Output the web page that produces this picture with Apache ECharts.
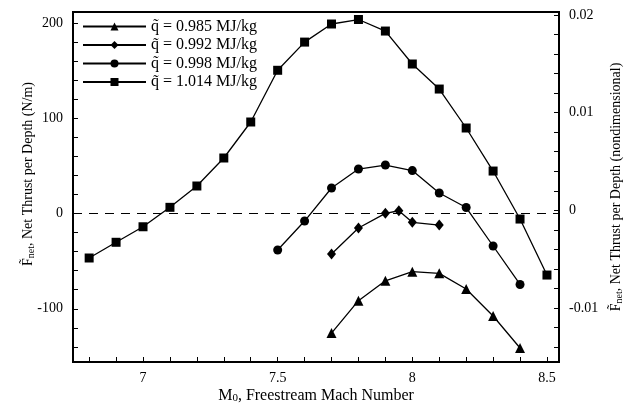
<!DOCTYPE html>
<html>
<head>
<meta charset="utf-8">
<script src="https://cdn.jsdelivr.net/npm/echarts@6/dist/echarts.min.js"></script>
<style>
  html, body { margin: 0; padding: 0; background: #fff; }
  #chart { width: 626px; height: 407px; }
</style>
</head>
<body>
<div id="chart"></div>
<script>
// Freestream Mach number for each run
const machSquare = [6.8, 6.9, 7.0, 7.1, 7.2, 7.3, 7.4, 7.5, 7.6, 7.7, 7.8, 7.9, 8.0, 8.1, 8.2, 8.3, 8.4, 8.5];
const machCircle = [7.5, 7.6, 7.7, 7.8, 7.9, 8.0, 8.1, 8.2, 8.3, 8.4];
const machDiamond = [7.7, 7.8, 7.9, 7.95, 8.0, 8.1];
const machTriangle = [7.7, 7.8, 7.9, 8.0, 8.1, 8.2, 8.3, 8.4];

// Net thrust per depth (N/m)
const thrust1014 = [-46.7, -30.2, -13.9, 6.5, 28.9, 58.3, 96.1, 150.4, 180.0, 199.0, 203.7, 191.6, 157.0, 130.7, 89.8, 44.6, -5.8, -64.6];
const thrust0998 = [-38.3, -7.9, 26.8, 46.7, 50.9, 45.1, 21.5, 6.3, -34.1, -74.5];
const thrust0992 = [-42.5, -15.2, 0.2, 2.9, -9.2, -12.1];
const thrust0985 = [-125.5, -91.5, -70.6, -61.1, -62.8, -79.3, -107.6, -141.2];

// Series names (heat release)
const seriesNames = ['q\u0303 = 0.985 MJ/kg', 'q\u0303 = 0.992 MJ/kg', 'q\u0303 = 0.998 MJ/kg', 'q\u0303 = 1.014 MJ/kg'];

// Axis ticks and labels
const machTickValues = [6.8, 6.9, 7.0, 7.1, 7.2, 7.3, 7.4, 7.5, 7.6, 7.7, 7.8, 7.9, 8.0, 8.1, 8.2, 8.3, 8.4, 8.5];
const machLabelValues = [7, 7.5, 8, 8.5];
const thrustTickValues = [-140, -120, -100, -80, -60, -40, -20, 0, 20, 40, 60, 80, 100, 120, 140, 160, 180, 200];
const thrustLabelValues = [-100, 0, 100, 200];
const ndTickValues = [-0.014, -0.012, -0.01, -0.008, -0.006, -0.004, -0.002, 0, 0.002, 0.004, 0.006, 0.008, 0.01, 0.012, 0.014, 0.016, 0.018, 0.02];
const ndLabelValues = [-0.01, 0, 0.01, 0.02];

const FONT = 'Liberation Serif';

function pairs(xs, ys) {
  return xs.map((x, i) => [x, ys[i]]);
}

const lineBase = {
  type: 'line',
  xAxisIndex: 0,
  yAxisIndex: 0,
  symbolSize: 9,
  lineStyle: { color: '#000', width: 1.3 },
  itemStyle: { color: '#000' },
  emphasis: { disabled: true },
  animation: false
};

const subStyle = { fontFamily: FONT, fontSize: 10, padding: [5, 0, 0, 0] };

const chart = echarts.init(document.getElementById('chart'), null, { renderer: 'canvas' });

chart.setOption({
  animation: false,
  backgroundColor: '#fff',
  textStyle: { fontFamily: FONT, color: '#000' },
  grid: {
    left: 73, right: 67, top: 12, bottom: 45,
    outerBoundsMode: 'none',
    containLabel: false,
    show: true, borderColor: '#000', borderWidth: 2, backgroundColor: 'transparent'
  },
  legend: {
    orient: 'vertical',
    left: 82,
    top: 18.5,
    padding: 0,
    itemWidth: 63,
    itemHeight: 10,
    itemGap: 2.5,
    data: seriesNames,
    textStyle: { fontFamily: FONT, fontSize: 16, color: '#000', lineHeight: 16 }
  },
  xAxis: {
    type: 'value',
    min: 6.74,
    max: 8.5447,
    name: 'M{sub|0}, Freestream Mach Number',
    nameLocation: 'middle',
    nameGap: 25,
    nameMoveOverlap: false,
    nameTextStyle: {
      fontFamily: FONT, fontSize: 16, color: '#000',
      rich: { sub: { fontFamily: FONT, fontSize: 11, padding: [6, 0, 0, 0] } }
    },
    axisLine: { show: true, onZero: false, lineStyle: { color: '#000', width: 2 } },
    axisTick: { show: true, inside: true, length: 5, customValues: machTickValues, lineStyle: { color: '#000', width: 1 } },
    axisLabel: { customValues: machLabelValues, fontFamily: FONT, fontSize: 14, color: '#000', margin: 9 },
    splitLine: { show: false }
  },
  yAxis: [
    {
      type: 'value',
      position: 'left',
      min: -155.9,
      max: 211.6,
      name: 'F\u0303{sub|net}, Net Thrust per Depth (N/m)',
      nameLocation: 'middle',
      nameGap: 37,
      nameMoveOverlap: false,
      nameTextStyle: {
        fontFamily: FONT, fontSize: 14, color: '#000',
        padding: [0, 0, 0, 26],
        rich: { sub: subStyle }
      },
      axisLine: { show: true, onZero: false, lineStyle: { color: '#000', width: 2 } },
      axisTick: { show: true, inside: true, length: 5, customValues: thrustTickValues, lineStyle: { color: '#000', width: 1 } },
      axisLabel: { customValues: thrustLabelValues, fontFamily: FONT, fontSize: 14, color: '#000', margin: 10 },
      splitLine: { show: false }
    },
    {
      type: 'value',
      position: 'right',
      min: -0.01553,
      max: 0.0203,
      name: 'F\u0303{sub|net}, Net Thrust per Depth (nondimensional)',
      nameLocation: 'middle',
      nameGap: 50,
      nameMoveOverlap: false,
      nameTextStyle: {
        fontFamily: FONT, fontSize: 14, color: '#000',
        rich: { sub: subStyle }
      },
      axisLine: { show: true, onZero: false, lineStyle: { color: '#000', width: 2 } },
      axisTick: { show: true, inside: true, length: 5, customValues: ndTickValues, lineStyle: { color: '#000', width: 1 } },
      axisLabel: { customValues: ndLabelValues, fontFamily: FONT, fontSize: 14, color: '#000', margin: 10 },
      splitLine: { show: false }
    }
  ],
  series: [
    Object.assign({}, lineBase, {
      name: seriesNames[0],
      symbol: 'triangle',
      symbolSize: 10,
      data: pairs(machTriangle, thrust0985)
    }),
    Object.assign({}, lineBase, {
      name: seriesNames[1],
      symbol: 'diamond',
      symbolSize: [9, 11],
      data: pairs(machDiamond, thrust0992)
    }),
    Object.assign({}, lineBase, {
      name: seriesNames[2],
      symbol: 'circle',
      data: pairs(machCircle, thrust0998)
    }),
    Object.assign({}, lineBase, {
      name: seriesNames[3],
      symbol: 'rect',
      data: pairs(machSquare, thrust1014),
      markLine: {
        silent: true,
        symbol: 'none',
        label: { show: false },
        lineStyle: { color: '#000', type: [9, 7], width: 1 },
        data: [{ yAxis: 0 }]
      }
    })
  ]
});
</script>
</body>
</html>
